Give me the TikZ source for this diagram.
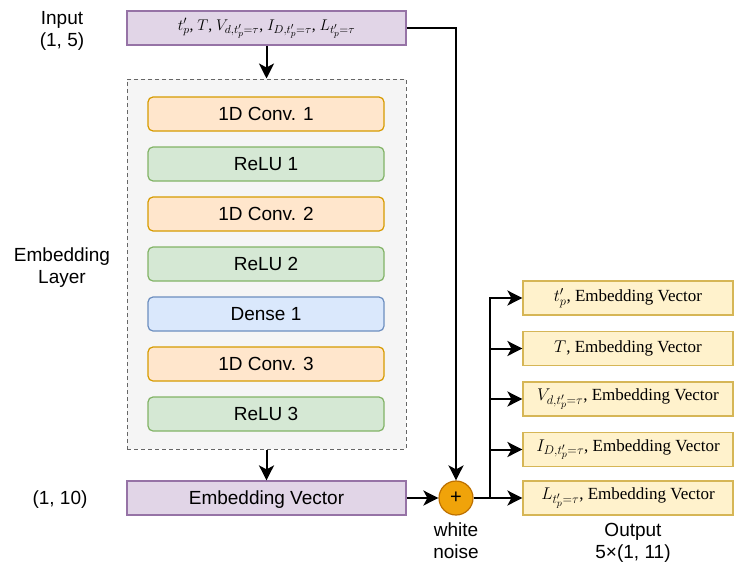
\RequirePackage{fix-cm}
\documentclass[tikz,border=0pt]{standalone}
\usepackage{fontspec}
\setmainfont{Liberation Serif}
\setsansfont{Liberation Sans}
\usetikzlibrary{arrows.meta}
\DeclareMathSizes{17}{17}{12.5}{10}
\DeclareMathSizes{15.5}{15.5}{11.5}{9.2}
\definecolor{purfill}{HTML}{E1D5E7}
\definecolor{purline}{HTML}{9673A6}
\definecolor{orfill}{HTML}{FFE6CC}
\definecolor{orline}{HTML}{D79B00}
\definecolor{grfill}{HTML}{D5E8D4}
\definecolor{grline}{HTML}{82B366}
\definecolor{blfill}{HTML}{DAE8FC}
\definecolor{blline}{HTML}{6C8EBF}
\definecolor{yefill}{HTML}{FFF2CC}
\definecolor{yeline}{HTML}{D6B656}
\definecolor{cofill}{HTML}{F5F5F5}
\definecolor{coline}{HTML}{666666}
\definecolor{plfill}{HTML}{F0A30A}
\definecolor{plline}{HTML}{BD7000}
\begin{document}
\begin{tikzpicture}[x=1pt,y=-1pt,
  sf/.style={font=\sffamily\fontsize{19}{22}\selectfont},
  lbl/.style={sf, align=center, inner sep=0pt},
  layer/.style={sf, rounded corners=5pt, minimum width=236pt, minimum height=34pt, line width=1.2pt, inner sep=0pt, text height=13.6pt, text depth=0pt},
  conv/.style={layer, fill=orfill, draw=orline},
  relu/.style={layer, fill=grfill, draw=grline},
  dense/.style={layer, fill=blfill, draw=blline},
  purbox/.style={minimum width=279pt, minimum height=34pt, fill=purfill, draw=purline, line width=1.2pt, inner sep=0pt},
  outbox/.style={minimum width=210pt, minimum height=34pt, fill=yefill, draw=yeline, line width=1.2pt, inner sep=0pt, font=\fontsize{17}{20}\selectfont},
  wire/.style={line width=2pt},
  conn/.style={wire, -{Stealth[length=15pt,width=15pt,inset=4pt]}}
]
\useasboundingbox (0,0) rectangle (734,565);
% labels
\node[lbl] (linp) at (62,31) {Input\\(1, 5)};
\node[lbl] (lemb) at (62,268) {Embedding\\Layer};
\node[lbl, text height=13.6pt, text depth=0pt] (lev) at (60,498) {(1, 10)};
% input
\node[purbox, font=\fontsize{15.5}{18}\selectfont] (inp) at (266.5,28) {$t'_p$, $T$, $V_{d,t'_p=\tau}$, $I_{D,t'_p=\tau}$, $L_{t'_p=\tau}$};
% container
\node[minimum width=279pt, minimum height=370pt, fill=cofill, draw=coline, line width=1pt, dash pattern=on 4pt off 3pt] (emb) at (266.5,264) {};
\node[conv] (c1) at (266,114) {1D Conv. 1};
\node[relu] (r1) at (266,164) {ReLU 1};
\node[conv] (c2) at (266,214) {1D Conv. 2};
\node[relu] (r2) at (266,264) {ReLU 2};
\node[dense] (d1) at (266,314) {Dense 1};
\node[conv] (c3) at (266,364) {1D Conv. 3};
\node[relu] (r3) at (266,414) {ReLU 3};
% embedding vector
\node[purbox, sf, text height=13.6pt, text depth=0pt] (ev) at (266.5,498) {Embedding Vector};
% plus
\node[circle, minimum size=34pt, inner sep=0pt, fill=plfill, draw=plline, line width=1.2pt, font=\sffamily\fontsize{20}{20}\selectfont] (plus) at (456,498) {+};
\node[lbl] (lwn) at (456,541) {white\\noise};
% outputs
\node[outbox] (o1) at (628,298) {$t'_p$, Embedding Vector};
\node[outbox] (o2) at (628,348.5) {$T$, Embedding Vector};
\node[outbox] (o3) at (628,399) {$V_{d,t'_p=\tau}$, Embedding Vector};
\node[outbox] (o4) at (628,449.5) {$I_{D,t'_p=\tau}$, Embedding Vector};
\node[outbox] (o5) at (628,498) {$L_{t'_p=\tau}$, Embedding Vector};
\node[lbl] (lout) at (633,543) {Output\\5×(1, 11)};
% connectors
\coordinate (j) at (490,498);
\draw[conn] (inp.south) -- (emb.north);
\draw[conn] (emb.south) -- (ev.north);
\draw[conn] (ev.east) -- (plus.west);
\draw[conn] (inp.east) -| (plus.north);
\draw[wire] (plus.east) -- (j);
\draw[conn] (j) -- (o5.west);
\draw[conn] (j) |- (o4.west);
\draw[conn] (j) |- (o3.west);
\draw[conn] (j) |- (o2.west);
\draw[conn] (j) |- (o1.west);
\end{tikzpicture}
\end{document}
